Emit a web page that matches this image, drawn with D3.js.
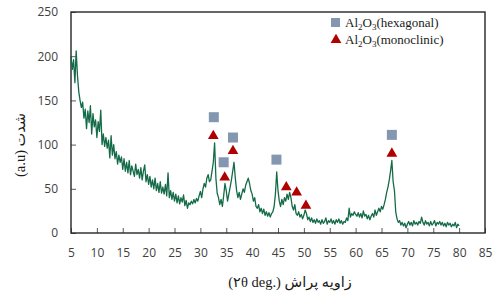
<!DOCTYPE html>
<html>
<head>
<meta charset="utf-8">
<script src="https://cdn.jsdelivr.net/npm/d3@7"></script>
<style>
  body { margin: 0; background: #fff; }
  svg { display: block; }
  .tick text { font-family: "Open Sans", "Liberation Sans", sans-serif; font-size: 12px; fill: #404040; }
  .axis-title { font-family: "Liberation Serif", "DejaVu Sans", serif; font-size: 14.5px; fill: #1a1a1a; }
  .legend-text { font-family: "Liberation Serif", serif; font-size: 13px; fill: #1a1a1a; }
</style>
</head>
<body>
<div id="xrd-chart"></div>
<script>
// XRD pattern with Al2O3 phase markers

// 2θ grid of the scan
const angleStart = 5
const angleStep = 0.25

// intensity (a.u), one value per 0.25°, from 5° to 80°
const intensity = [
  200, 185, 196, 170,  206, 178, 160, 150,  142, 148, 130, 140,  118, 138, 125, 144,  // 5-8.75
  112, 135, 120, 128,  108, 126, 115, 139,  100, 112, 98, 108,  96, 105, 85, 110,     // 9-12.75
  88, 100, 84, 92,  78, 88, 80, 86,  72, 84, 70, 80,  68, 82, 66, 76,                 // 13-16.75
  70, 64, 78, 66,  72, 62, 74, 60,  70, 77, 58, 66,  55, 64, 52, 60,                  // 17-20.75
  50, 62, 48, 56,  46, 58, 45, 52,  44, 55, 42, 68,  40, 48, 38, 46,                  // 21-24.75
  36, 44, 34, 42,  33, 40, 35, 43,  31, 37, 28, 34,  32, 36, 33, 38,                  // 25-28.75
  34, 39, 36, 42,  47, 40, 50, 56,  52, 62, 66, 58,  60, 70, 80, 102,                 // 29-32.75
  62, 45, 40, 32,  38, 30, 42, 56,  48, 36, 44, 52,  60, 70, 80, 62,                  // 33-36.75
  48, 40, 46, 38,  44, 50, 46, 54,  58, 62, 56, 48,  44, 36, 40, 30,                  // 37-40.75
  28, 32, 24, 28,  22, 27, 20, 24,  19, 23, 18, 22,  24, 30, 44, 69,                  // 41-44.75
  48, 36, 30, 38,  32, 40, 36, 44,  38, 46, 40, 30,  26, 32, 22, 20,                  // 45-48.75
  24, 18, 21, 16,  20, 26, 22, 15,  18, 13, 17, 12,  15, 11, 16, 12,                  // 49-52.75
  14, 10, 15, 11,  13, 17, 10, 14,  12, 16, 11, 14,  10, 15, 12, 16,                  // 53-56.75
  11, 14, 10, 13,  12, 17, 14, 28,  18, 22, 20, 24,  21, 19, 23, 18,                  // 57-60.75
  22, 17, 25, 19,  21, 16, 20, 15,  19, 22, 18, 26,  20, 24, 28, 24,                  // 61-64.75
  30, 27, 32, 38,  46, 52, 60, 70,  82, 58, 48, 24,  16, 12, 14, 9,                   // 65-68.75
  12, 8, 11, 6,  10, 13, 9, 12,  8, 14, 10, 12,  9, 13, 11, 18,                       // 69-72.75
  12, 9, 14, 10,  12, 8, 13, 9,  11, 14, 8, 12,  10, 13, 9, 12,                       // 73-76.75
  8, 11, 7, 12,  9, 11, 7, 10,  8, 12, 6, 10,  8                                      // 77-80
]

// phase markers (position, height)
const hexAngle = [32.6, 34.5, 36.3, 44.7, 67.0]
const hexHeight = [131, 80, 108, 83, 111]
const monoAngle = [32.5, 34.7, 36.3, 46.6, 48.6, 50.4, 67.0]
const monoHeight = [111, 64, 94, 53, 47, 32, 91]

const xTicks = [5, 10, 15, 20, 25, 30, 35, 40, 45, 50, 55, 60, 65, 70, 75, 80, 85]
const yTicks = [0, 50, 100, 150, 200, 250]

const width = 495
const height = 295
const margin = { top: 12, right: 10, bottom: 62, left: 71 }

const svg = d3.select("#xrd-chart").append("svg").attr("width", width).attr("height", height)

const xScale = d3.scaleLinear().domain([5, 85]).range([margin.left, width - margin.right])
const yScale = d3.scaleLinear().domain([0, 250]).range([height - margin.bottom, margin.top])

const trace = intensity.map((v, i) => ({ angle: angleStart + i * angleStep, value: v }))

// axes, ticks pointing inwards
const xAxis = d3.axisBottom(xScale).tickValues(xTicks).tickSize(-5).tickPadding(15)
const yAxis = d3.axisLeft(yScale).tickValues(yTicks).tickSize(-5).tickPadding(13)

const gx = svg.append("g").attr("transform", `translate(0,${yScale(0)})`).call(xAxis)
const gy = svg.append("g").attr("transform", `translate(${xScale(5)},0)`).call(yAxis)

gx.selectAll(".tick line").attr("stroke", "#595959")
gy.selectAll(".tick line").attr("stroke", "#595959")
gx.select(".domain").remove()
gy.select(".domain").remove()

// plot frame
svg
  .append("rect")
  .attr("x", xScale(5))
  .attr("y", yScale(250))
  .attr("width", xScale(85) - xScale(5))
  .attr("height", yScale(0) - yScale(250))
  .attr("fill", "none")
  .attr("stroke", "#262626")
  .attr("stroke-width", 1.4)

// diffraction trace
const line = d3
  .line()
  .x((d) => xScale(d.angle))
  .y((d) => yScale(d.value))

svg
  .append("path")
  .datum(trace)
  .attr("d", line)
  .attr("fill", "none")
  .attr("stroke", "#146b48")
  .attr("stroke-width", 1.3)
  .attr("stroke-linejoin", "round")

// hexagonal markers
svg
  .selectAll(".hex")
  .data(hexAngle)
  .enter()
  .append("rect")
  .attr("class", "hex")
  .attr("x", (d) => xScale(d) - 5)
  .attr("y", (d, i) => yScale(hexHeight[i]) - 5)
  .attr("width", 10)
  .attr("height", 10)
  .attr("fill", "#8497b0")

// monoclinic markers
const triangle = d3.symbol().type(d3.symbolTriangle).size(50)
svg
  .selectAll(".mono")
  .data(monoAngle)
  .enter()
  .append("path")
  .attr("class", "mono")
  .attr("d", triangle)
  .attr("transform", (d, i) => `translate(${xScale(d)},${yScale(monoHeight[i]) + 1})`)
  .attr("fill", "#b00000")

// legend
const legend = svg.append("g").attr("transform", "translate(331,18)")
legend.append("rect").attr("width", 9).attr("height", 9).attr("fill", "#8497b0")
legend
  .append("path")
  .attr("d", triangle)
  .attr("transform", "translate(5,22)")
  .attr("fill", "#b00000")

const legendLabels = ["(hexagonal)", "(monoclinic)"]
legendLabels.forEach((label, i) => {
  const t = legend
    .append("text")
    .attr("class", "legend-text")
    .attr("x", 14)
    .attr("y", 9 + i * 17)
  t.append("tspan").text("Al")
  t.append("tspan").attr("dy", 3).attr("font-size", 9).text("2")
  t.append("tspan").attr("dy", -3).text("O")
  t.append("tspan").attr("dy", 3).attr("font-size", 9).text("3")
  t.append("tspan").attr("dy", -3).text(label)
})

// axis titles
svg
  .append("text")
  .attr("class", "axis-title")
  .attr("x", 290)
  .attr("y", 287)
  .attr("text-anchor", "middle")
  .text("(۲θ deg.) زاویه پراش")

svg
  .append("text")
  .attr("class", "axis-title")
  .attr("transform", "translate(25,145) rotate(-90)")
  .attr("text-anchor", "middle")
  .text("(a.u) شدت")
</script>
</body>
</html>
